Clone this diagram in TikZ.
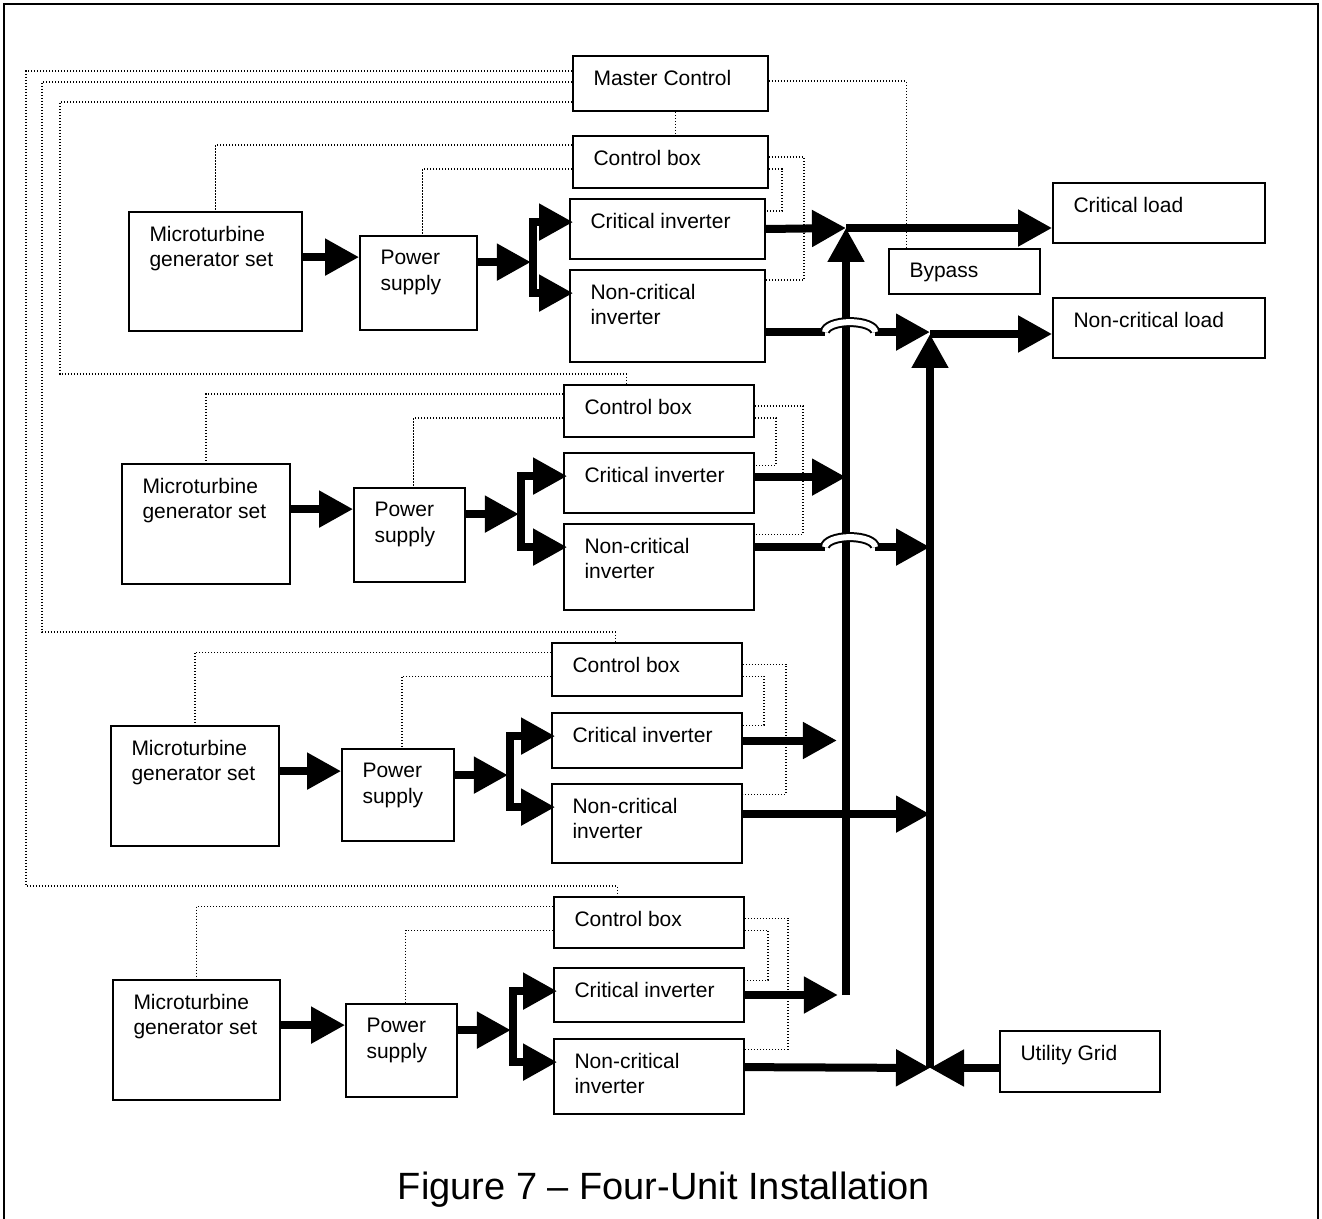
\documentclass[tikz,border=0pt]{standalone}
\usepackage{fontspec}
\setmainfont{Liberation Sans}
\usetikzlibrary{arrows.meta, calc, fit}

\newcommand\boxfont{\fontsize{10.5}{12.6}\selectfont}

\begin{document}
\begin{tikzpicture} [x=0.5pt, y=-0.5pt,
            blk/.style={draw, line width=0.9pt, inner sep=0pt},
            txt/.style={anchor=north west, align=left, inner sep=0pt,
                xshift=10.5pt, yshift=-7.5pt, font=\boxfont},
            power/.style={line width=4pt, -{Triangle[length=17pt,width=17.5pt]}},
            fork/.style={line width=4pt,
                {Triangle[length=17pt,width=17.5pt]}-{Triangle[length=17pt,width=17.5pt]}},
            ctrl/.style={line width=0.6pt, dash pattern=on 0.6pt off 0.9pt},
            hop/.style={line width=1pt, double=white, double distance=3pt}]
            \useasboundingbox (0,0) rectangle (1322,1219);

            % Frame
            \draw [line width=1pt] (4,1219) -- (4,4) -- (1318,4) -- (1318,1219);

            % Master control and loads
            \node (mc) [blk, fit={(573,56) (768,111)},
                label={[txt]north west:Master Control}] {};
            \node (cl) [blk, fit={(1053,183) (1265,243)},
                label={[txt]north west:Critical load}] {};
            \node (bp) [blk, fit={(889,249) (1040,294)},
                label={[txt]north west:Bypass}] {};
            \node (ncl) [blk, fit={(1053,298) (1265,358)},
                label={[txt]north west:Non-critical load}] {};
            \node (ug) [blk, fit={(1000,1031) (1160,1092)},
                label={[txt]north west:Utility Grid}] {};

            % Unit 1
            \node (cb1) [blk, fit={(573,136) (768,188)},
                label={[txt]north west:Control box}] {};
            \node (ci1) [blk, fit={(570,199) (765,259)},
                label={[txt]north west:Critical inverter}] {};
            \node (nci1) [blk, fit={(570,270) (765,362)},
                label={[txt]north west:{Non-critical\\inverter}}] {};
            \node (mg1) [blk, fit={(129,212) (302,331)},
                label={[txt]north west:{Microturbine\\generator set}}] {};
            \node (ps1) [blk, fit={(360,236) (477,330)},
                label={[txt]north west:{Power\\supply}}] {};

            % Unit 2
            \node (cb2) [blk, fit={(564,385) (754,437)},
                label={[txt]north west:Control box}] {};
            \node (ci2) [blk, fit={(564,453) (754,513)},
                label={[txt]north west:Critical inverter}] {};
            \node (nci2) [blk, fit={(564,524) (754,610)},
                label={[txt]north west:{Non-critical\\inverter}}] {};
            \node (mg2) [blk, fit={(122,464) (290,584)},
                label={[txt]north west:{Microturbine\\generator set}}] {};
            \node (ps2) [blk, fit={(354,488) (465,582)},
                label={[txt]north west:{Power\\supply}}] {};

            % Unit 3
            \node (cb3) [blk, fit={(552,643) (742,696)},
                label={[txt]north west:Control box}] {};
            \node (ci3) [blk, fit={(552,713) (742,768)},
                label={[txt]north west:Critical inverter}] {};
            \node (nci3) [blk, fit={(552,784) (742,863)},
                label={[txt]north west:{Non-critical\\inverter}}] {};
            \node (mg3) [blk, fit={(111,726) (279,846)},
                label={[txt]north west:{Microturbine\\generator set}}] {};
            \node (ps3) [blk, fit={(342,749) (454,841)},
                label={[txt]north west:{Power\\supply}}] {};

            % Unit 4
            \node (cb4) [blk, fit={(554,897) (744,948)},
                label={[txt]north west:Control box}] {};
            \node (ci4) [blk, fit={(554,968) (744,1022)},
                label={[txt]north west:Critical inverter}] {};
            \node (nci4) [blk, fit={(554,1039) (744,1114)},
                label={[txt]north west:{Non-critical\\inverter}}] {};
            \node (mg4) [blk, fit={(113,980) (280,1100)},
                label={[txt]north west:{Microturbine\\generator set}}] {};
            \node (ps4) [blk, fit={(346,1004) (457,1097)},
                label={[txt]north west:{Power\\supply}}] {};

            % Inside each unit
            \foreach \i/\inn/\out in {1/13/35, 2/21/48, 3/21/43, 4/23/43} {
                \coordinate (m\i) at ($(mg\i.north east)+(0,46)$);
                \draw [power] (m\i) -- (m\i -| ps\i.west);
                \coordinate (f\i) at ($(ps\i.north east)+(53,27)$);
                \draw [power] ($(ps\i.north east)+(0,27)$) -- (f\i);
                \coordinate (ca\i) at ($(ci\i.north west)+(4,24)$);
                \coordinate (na\i) at ($(nci\i.north west)+(4,24)$);
                \draw [fork] (ca\i) -- ($(ca\i -| f\i)+(2,0)$)
                    -- ($(na\i -| f\i)+(2,0)$) -- (na\i);
                \draw [ctrl] ($(cb\i.north west)+(0,10)$) -| (mg\i.north);
                \draw [ctrl] ($(cb\i.north west)+(0,34)$) -| ([xshift=2pt]ps\i.north);
                \draw [ctrl] ($(cb\i.north east)+(0,34)$) -- ++(\inn,0)
                    |- ($(ci\i.north east)+(0,13)$);
                \draw [ctrl] ($(cb\i.north east)+(0,22)$) -- ++(\out,0)
                    |- ($(nci\i.north east)+(0,11)$);
            }

            % Control lines from master control
            \coordinate (w2) at (60,374);
            \coordinate (w3) at (42,632);
            \coordinate (w4) at (26,886);
            \draw [ctrl] ($(mc.north west)+(0,47)$) -| (w2) -| ($(cb2.north west)+(63,0)$);
            \draw [ctrl] ($(mc.north west)+(0,27)$) -| (w3) -| ($(cb3.north west)+(64,0)$);
            \draw [ctrl] ($(mc.north west)+(0,16)$) -| (w4) -| ($(cb4.north west)+(64,0)$);
            \draw [ctrl] ($(mc.north east)+(0,26)$) -| ($(bp.north west)+(18,0)$);
            \draw [ctrl] ($(mc.south)+(5,0)$) -- ($(cb1.north)+(5,0)$);

            % Buses
            \coordinate (j1) at (846,228);
            \coordinate (b1) at (846,995);
            \coordinate (j2) at (930,334);
            \coordinate (j3) at (930,1068);

            % Critical side
            \draw [power] (b1) -- (j1);
            \draw [power] (ci1.east) -- (j1);
            \draw [power] (j1) -- (j1 -| cl.west);
            \coordinate (c2) at ($(ci2.north east)+(0,25)$);
            \draw [power] (c2) -- (c2 -| j1);
            \coordinate (t3) at ($(ci3.east)+(94,0)$);
            \draw [power] (ci3.east) -- (t3);
            \coordinate (t4) at ($(ci4.east)+(93,0)$);
            \draw [power] (ci4.east) -- (t4);

            % Non-critical side
            \draw [power] (j3) -- (j2);
            \draw [power] (j2) -- (j2 -| ncl.west);
            \coordinate (n1) at ($(nci1.north east)+(0,63)$);
            \coordinate (n2) at ($(nci2.north east)+(0,24)$);
            \coordinate (n3) at ($(nci3.north east)+(0,31)$);
            \coordinate (n4) at ($(nci4.north east)+(0,29)$);
            \foreach \k in {1,2} {
                \coordinate (h\k) at ($(n\k -| j1)+(-21,0)$);
                \coordinate (e\k) at ($(n\k -| j1)+(29,0)$);
                \draw [line width=4pt] (n\k) -- (h\k);
                \draw [power] (e\k) -- (n\k -| j2);
                \draw [hop] (h\k) arc [start angle=180, end angle=360,
                    x radius=25, y radius=10];
            }
            \draw [power] (n3) -- (n3 -| j2);
            \draw [power] (n4) -- (j3);
            \draw [power] (j3 -| ug.west) -- (j3);

            % Caption
            \node (cap) at (664,1190) {\fontsize{19}{23}\selectfont Figure 7 – Four-Unit Installation};
        \end{tikzpicture}
\end{document}
